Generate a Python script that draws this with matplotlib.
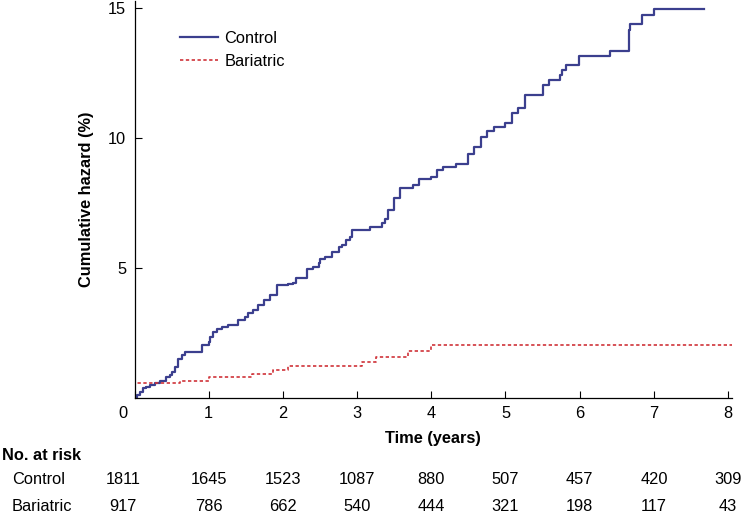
import matplotlib
matplotlib.use("Agg")
import matplotlib.pyplot as plt
import matplotlib.transforms as mtransforms

plt.rcParams['font.family'] = ['Liberation Sans', 'DejaVu Sans']

# ---- data ----
control_time = [0, 0.04, 0.07, 0.12, 0.16, 0.21, 0.28, 0.34, 0.43, 0.48, 0.51, 0.55, 0.59, 0.64, 0.68,
                0.91, 1.00, 1.02, 1.06, 1.11, 1.18, 1.26, 1.40, 1.49, 1.53, 1.60, 1.67, 1.74, 1.83, 1.92,
                2.07, 2.14, 2.18, 2.32, 2.41, 2.48, 2.50, 2.57, 2.66, 2.75, 2.79, 2.85, 2.90, 2.93, 3.17,
                3.33, 3.38, 3.42, 3.50, 3.58, 3.76, 3.84, 3.99, 4.08, 4.16, 4.33, 4.50, 4.58, 4.67, 4.75,
                4.84, 4.99, 5.09, 5.17, 5.26, 5.51, 5.58, 5.73, 5.76, 5.82, 5.99, 6.41, 6.66, 6.68, 6.84,
                7.00, 7.67]
control_value = [0, 0.10, 0.22, 0.35, 0.42, 0.48, 0.55, 0.63, 0.80, 0.87, 0.99, 1.18, 1.47, 1.63, 1.76,
                 2.02, 2.15, 2.34, 2.53, 2.62, 2.70, 2.79, 2.98, 3.11, 3.24, 3.37, 3.56, 3.75, 3.94, 4.31,
                 4.37, 4.42, 4.61, 4.93, 5.01, 5.16, 5.33, 5.42, 5.61, 5.80, 5.87, 6.06, 6.18, 6.44, 6.55,
                 6.72, 6.85, 7.21, 7.66, 8.05, 8.19, 8.40, 8.49, 8.75, 8.85, 8.97, 9.37, 9.65, 10.03, 10.25,
                 10.42, 10.57, 10.93, 11.12, 11.63, 12.02, 12.21, 12.40, 12.58, 12.79, 13.15, 13.33, 14.13, 14.35, 14.71,
                 14.93, 14.93]

bariatric_time = [0, 0.01, 0.61, 1.00, 1.58, 1.87, 2.07, 3.06, 3.26, 3.69, 4.00, 8.05]
bariatric_value = [0, 0.57, 0.65, 0.78, 0.90, 1.06, 1.22, 1.38, 1.57, 1.79, 2.02, 2.02]

x_ticks = [0, 1, 2, 3, 4, 5, 6, 7, 8]
y_ticks = [5, 10, 15]
risk_times = [0, 1, 2, 3, 4, 5, 6, 7, 8]
risk_control = [1811, 1645, 1523, 1087, 880, 507, 457, 420, 309]
risk_bariatric = [917, 786, 662, 540, 444, 321, 198, 117, 43]

# ---- figure ----
W, H = 742, 516
fig = plt.figure(figsize=(W / 100, H / 100), dpi=100)
ax = fig.add_axes([134.5 / W, (H - 397.5) / H, 597.3 / W, 396.5 / H])

c_col = '#3b3f8e'
b_col = '#d0343a'
ax.step(control_time, control_value, where='post', color=c_col, lw=1.6, label='Control')
ax.step(bariatric_time, bariatric_value, where='post', color=b_col, lw=1.2,
        linestyle=(0, (2.0, 1.5)), label='Bariatric')

ax.set_xlim(0, 8.05)
ax.set_ylim(0, 15.25)
ax.set_xticks(x_ticks)
ax.set_yticks(y_ticks)
ax.tick_params(direction='in', length=5, width=0.8, labelsize=11.8, pad=6)
for s in ['top', 'right']:
    ax.spines[s].set_visible(False)
for s in ['left', 'bottom']:
    ax.spines[s].set_linewidth(0.9)

# shift the "0" tick label left, as in the reference
lbl0 = ax.get_xticklabels()[0]
lbl0.set_transform(lbl0.get_transform() + mtransforms.ScaledTranslation(-11.5 / 100, 0, fig.dpi_scale_trans))

ax.set_xlabel('Time (years)', fontsize=11.8, fontweight='bold', labelpad=7)
ax.set_ylabel('Cumulative hazard (%)', fontsize=11.8, fontweight='bold', labelpad=10)

ax.legend(loc='upper left', bbox_to_anchor=(0.065, 0.942), frameon=False, fontsize=11.8,
          handlelength=2.3, handletextpad=0.4, labelspacing=0.5, borderaxespad=0)

# ---- number at risk table ----
trans = mtransforms.blended_transform_factory(ax.transData, fig.transFigure)
fs = 11.8
fig.text(2 / W, (H - 455) / H, 'No. at risk', fontsize=fs, fontweight='bold', va='center', ha='left')
fig.text(12 / W, (H - 480) / H, 'Control', fontsize=fs, va='center', ha='left')
fig.text(12 / W, (H - 506.5) / H, 'Bariatric', fontsize=fs, va='center', ha='left')
shift0 = mtransforms.ScaledTranslation(-11.5 / 100, 0, fig.dpi_scale_trans)
for t, c, b in zip(risk_times, risk_control, risk_bariatric):
    tr = trans + shift0 if t == 0 else trans
    ax.text(t, (H - 480) / H, str(c), transform=tr, fontsize=fs, ha='center', va='center', clip_on=False)
    ax.text(t, (H - 506.5) / H, str(b), transform=tr, fontsize=fs, ha='center', va='center', clip_on=False)

fig.savefig('out.png', dpi=100)
